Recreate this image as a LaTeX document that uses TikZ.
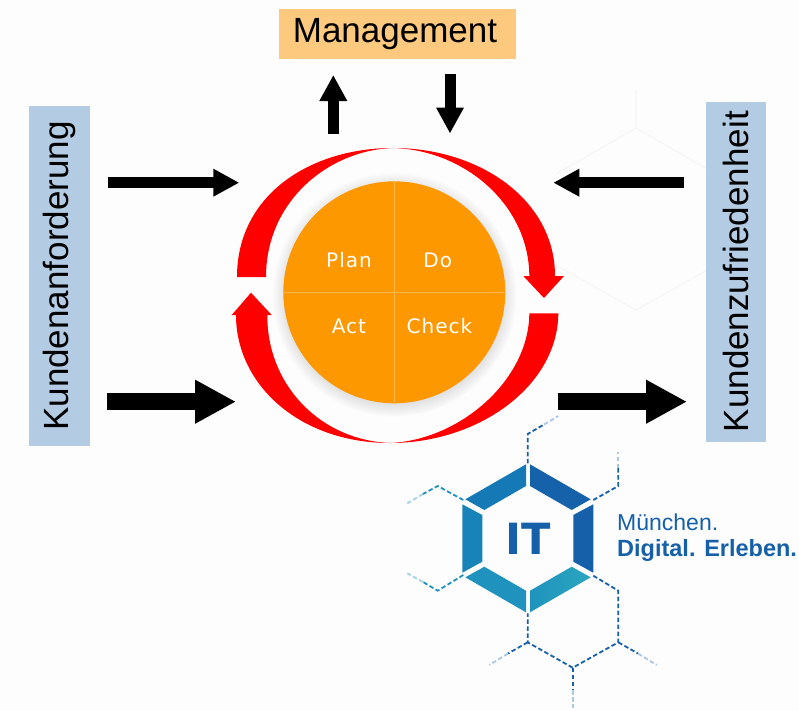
\documentclass[tikz,border=0pt]{standalone}
\usepackage{fontspec}
\setmainfont{Liberation Sans}
\newfontfamily\pdcafont[LetterSpace=5]{DejaVu Sans}
\newfontfamily\itfont{DejaVu Sans}
\usetikzlibrary{arrows.meta,shadows}
\definecolor{pagetone}{HTML}{FDFDFE}
\definecolor{boxblue}{HTML}{B4CBE4}
\definecolor{boxorange}{HTML}{FDC97F}
\definecolor{pdcaorange}{HTML}{FE9800}
\definecolor{crossline}{HTML}{FDB64A}
\definecolor{itblue}{HTML}{1560A9}
\definecolor{itmid}{HTML}{1479B4}
\definecolor{itteal}{HTML}{1F93BD}
\definecolor{itlight}{HTML}{2BA6BF}
\tikzset{
	lightarrow/.style={line width=11pt,-{Triangle[length=26pt,width=26pt]}},
	heavyarrow/.style={line width=17pt,-{Triangle[length=41pt,width=41pt]}},
	sidebox/.style={fill=boxblue,minimum width=340pt,minimum height=60.5pt,rotate=90,font=\fontsize{35}{40}\selectfont},
	pdcatext/.style={text=white,anchor=base,font=\pdcafont\fontsize{20}{24}\selectfont},
	hexdash/.style={itblue,line width=1.8pt,dash pattern=on 4.5pt off 2.5pt},
	hexteal/.style={itteal,line width=1.8pt,dash pattern=on 4.5pt off 2.5pt},
	hexfade/.style={itblue!35,line width=1.8pt,dash pattern=on 4.5pt off 2.5pt},
}
\begin{document}
\begin{tikzpicture}[x=1pt,y=-1pt,line cap=butt,line join=miter]
	\useasboundingbox (0,0) rectangle (799,710);
	\fill[pagetone] (0,0) rectangle (799,710);
	\draw[gray!7,line width=1.2pt] (636,90) -- (636,128) -- (716,174) (636,128) -- (556,174) (556,265) -- (636,310) -- (716,265);
	% boxes
	\node[fill=boxorange,minimum width=236.4pt,minimum height=50.3pt,inner sep=0pt,font=\fontsize{35}{40}\selectfont] (management) at (397.5,34.2) {\raisebox{-1pt}{Management}\kern5pt};
	\node[sidebox] (anforderung) at (59.5,276) {Kundenanforderung};
	\node[sidebox] (zufriedenheit) at (736,271.7) {Kundenzufriedenheit};
	% arrow ends
	\coordinate (anfa) at (108.3,182.7);
	\coordinate (anfb) at (239.3,182.7);
	\coordinate (anfc) at (107,401.7);
	\coordinate (anfd) at (236,401.7);
	\coordinate (zufa) at (684,182.7);
	\coordinate (zufb) at (553.3,182.7);
	\coordinate (zufc) at (557.7,401.7);
	\coordinate (zufd) at (687,401.7);
	\coordinate (upa) at (333.3,133.5);
	\coordinate (upb) at (333.3,75);
	\coordinate (downa) at (450,74);
	\coordinate (downb) at (450,133.5);
	\draw[lightarrow] (anfa) -- (anfb);
	\draw[heavyarrow] (anfc) -- (anfd);
	\draw[lightarrow] (zufa) -- (zufb);
	\draw[heavyarrow] (zufc) -- (zufd);
	\draw[lightarrow] (upa) -- (upb);
	\draw[lightarrow] (downa) -- (downb);
	% red cycle
	\fill[red] (237,277) .. controls (237,195) and (310,148) .. (393,148) .. controls (330,150) and (266,200) .. (266,277) -- cycle;
	\fill[red] (393,148) .. controls (480,148) and (555,200) .. (555,276) -- (564,276) -- (544,298) -- (523.3,276) -- (529.3,276) .. controls (529,205) and (465,150) .. (393,148) -- cycle;
	\fill[red] (558.3,313.3) .. controls (558,385) and (480,443) .. (390,443) .. controls (460,440) and (529,380) .. (529.3,313.3) -- cycle;
	\fill[red] (390,443) .. controls (300,443) and (236,385) .. (236,315) -- (231.7,315) -- (251,292.7) -- (271.7,315) -- (267.3,315) .. controls (267,385) and (320,440) .. (390,443) -- cycle;
	% pdca circle
	\node[circle,fill=pdcaorange,minimum size=222pt,inner sep=0pt,circular drop shadow={shadow xshift=0pt,shadow yshift=-2pt,shadow scale=1.1,opacity=.3}] (pdca) at (394.3,292.3) {};
	\draw[crossline,line width=.8pt] (pdca.north) -- (pdca.south);
	\draw[crossline,line width=.8pt] (pdca.west) -- (pdca.east);
	\node[pdcatext] (plan) at (349,267.3) {Plan};
	\node[pdcatext] (do) at (437.8,267.3) {Do};
	\node[pdcatext] (act) at (349,333.3) {Act};
	\node[pdcatext] (check) at (439.5,333.3) {Check};
	% logo
	\fill[itmid] (465.3,499.3) -- (526,464.3) -- (526,486) -- (484.3,510) -- cycle;
	\fill[itblue!92!itmid] (530,464.3) -- (590.7,499.3) -- (571.7,510) -- (530,486) -- cycle;
	\fill[itblue] (593.3,504.3) -- (593.3,572.7) -- (573.3,561.7) -- (573.3,515) -- cycle;
	\shade[left color=itteal,right color=itlight] (590.7,577.3) -- (530,612.3) -- (530,590.7) -- (571.7,566.7) -- cycle;
	\fill[itteal] (526,612.3) -- (465.3,577.3) -- (484.3,566.7) -- (526,590.7) -- cycle;
	\fill[itmid!60!itteal] (462.3,504.3) -- (482.3,515) -- (482.3,561.7) -- (462.3,572.7) -- cycle;
	\node[text=itblue,font=\itfont\fontsize{43}{50}\selectfont\bfseries] (it) at (528,538.5) {IT};
	\node[text=itblue,anchor=base west,inner sep=0pt,font=\fontsize{23}{26}\selectfont] (muenchen) at (617,530.7) {München.};
	\node[text=itblue,anchor=base west,inner sep=0pt,font=\fontsize{23.5}{28}\selectfont\bfseries] (digital) at (617,556.7) {Digital. Erleben.};
	% dashed hexagons
	\draw[hexdash] (527.7,463.3) -- (527.7,434) -- (544,424.5);
	\draw[hexfade] (544,424.5) -- (558.3,416);
	\draw[hexdash] (593.3,500) -- (618.3,486) -- (618.3,468);
	\draw[hexfade] (618.3,468) -- (618.3,451.7);
	\draw[hexteal] (463.3,500) -- (437.7,486) -- (423,494);
	\draw[hexteal,opacity=.4] (423,494) -- (407.3,503.3);
	\draw[hexteal] (463.3,575) -- (437.7,590.7) -- (423,582);
	\draw[hexteal,opacity=.4] (423,582) -- (407.3,573.3);
	\draw[hexdash] (593.3,575.7) -- (618.3,590.7) -- (618.3,642.3) -- (572.7,667.7) -- (527.7,642.3) -- (527.7,613.3);
	\draw[hexdash] (527.7,642.3) -- (508,653.5);
	\draw[hexfade] (508,653.5) -- (489.3,665);
	\draw[hexdash] (618.3,642.3) -- (638,653.5);
	\draw[hexfade] (638,653.5) -- (656.7,665);
	\draw[hexdash] (572.7,667.7) -- (572.7,690);
	\draw[hexfade] (572.7,690) -- (572.7,708.3);
\end{tikzpicture}
\end{document}
